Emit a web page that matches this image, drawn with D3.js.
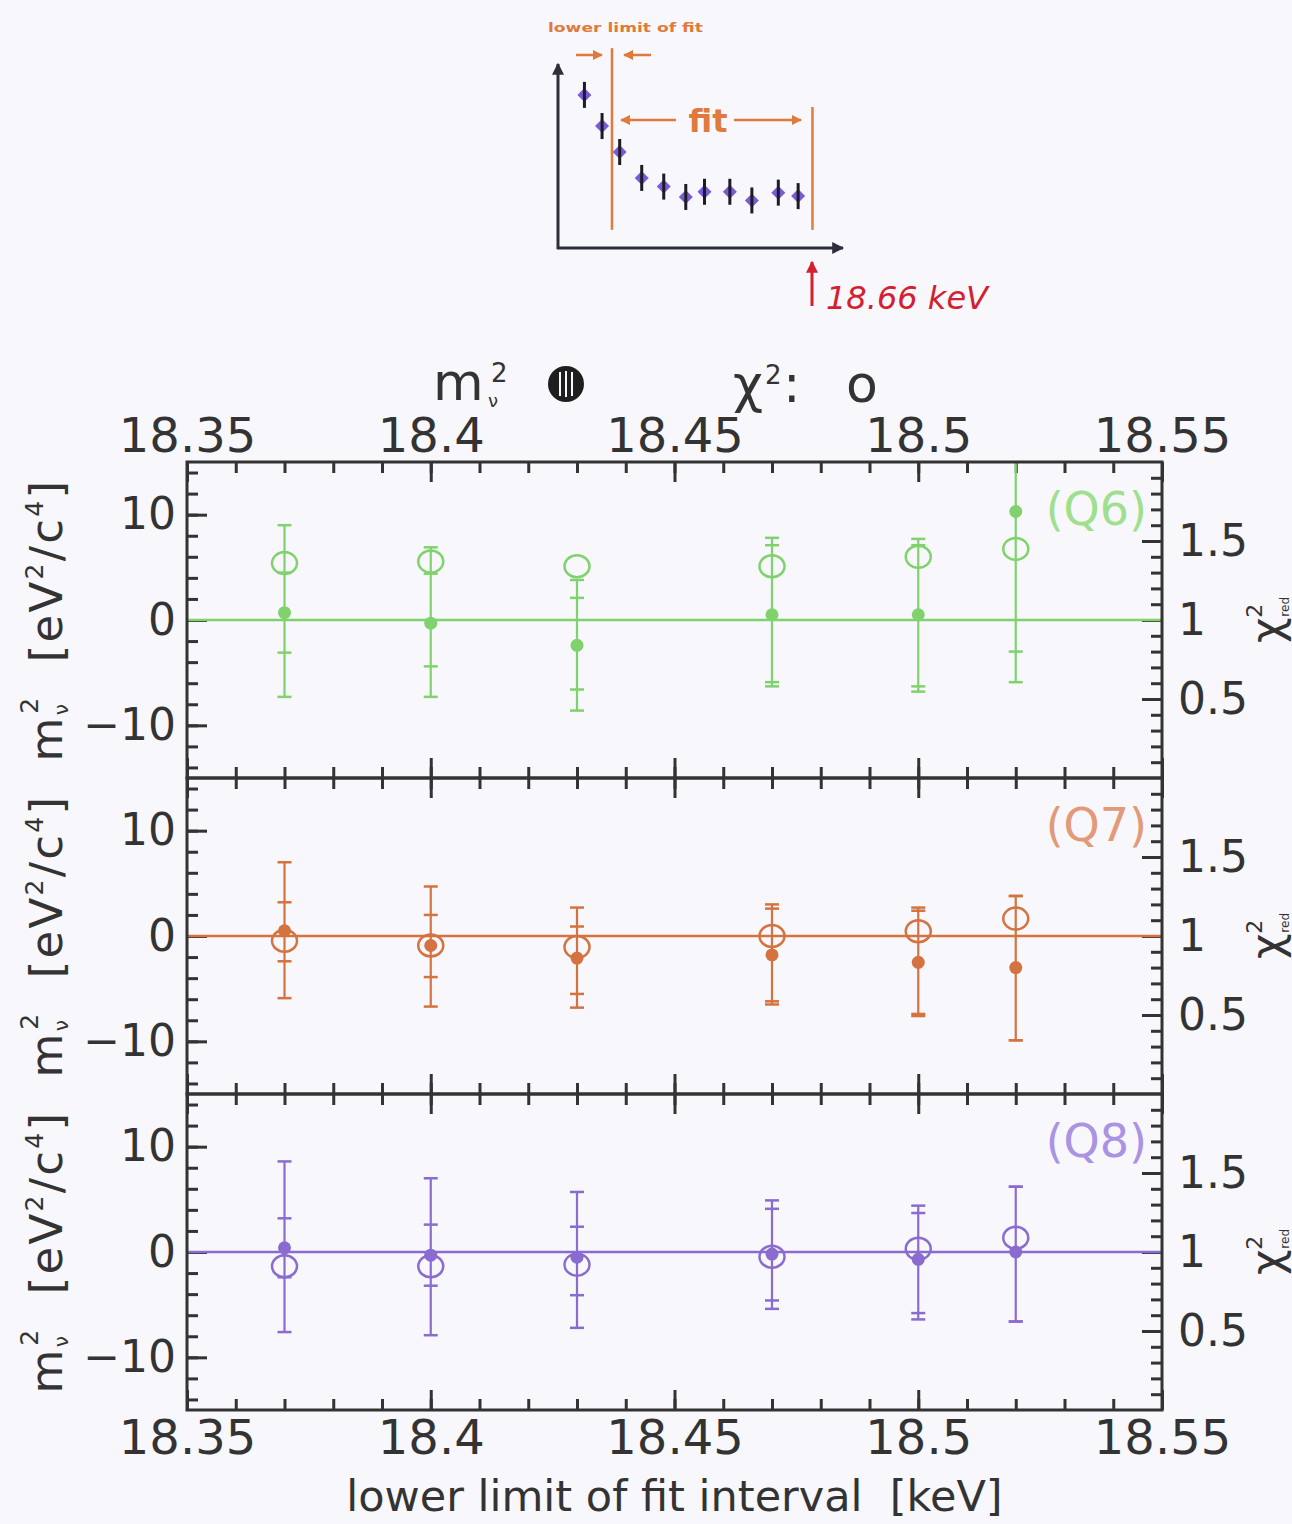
<!DOCTYPE html>
<html>
<head>
<meta charset="utf-8">
<script src="https://cdn.jsdelivr.net/npm/d3@7"></script>
<style>
  html, body { margin: 0; padding: 0; background: #f7f7fc; }
  svg { display: block; font-family: "DejaVu Sans", sans-serif; }
</style>
</head>
<body>
<svg id="chart" width="1292" height="1524"></svg>
<script>
// ---------- data ----------
// lower limit of the fit interval [keV]
const energies = [18.37, 18.40, 18.43, 18.47, 18.50, 18.52];

// Q6: fitted m_nu^2 [eV^2/c^4], total (outer) and inner error bars, reduced chi^2
const q6Mass      = [0.7, -0.3, -2.4, 0.5, 0.5, 10.3];
const q6ErrUp     = [8.3, 7.2, 6.2, 7.3, 7.2, 16.2];
const q6ErrDown   = [8.0, 7.0, 6.2, 6.8, 7.3, 16.2];
const q6InnerUp   = [3.8, 4.7, 4.5, 6.6, 6.6, 13.3];
const q6InnerDown = [3.8, 4.1, 4.2, 6.4, 6.8, 13.3];
const q6Chi2      = [1.36, 1.37, 1.34, 1.34, 1.40, 1.45];

// Q7
const q7Mass      = [0.5, -0.9, -2.1, -1.8, -2.5, -3.0];
const q7ErrUp     = [6.5, 5.6, 4.8, 4.8, 5.2, 6.8];
const q7ErrDown   = [6.4, 5.8, 4.7, 4.7, 5.1, 6.9];
const q7InnerUp   = [2.7, 2.9, 3.0, 4.4, 4.9, 6.8];
const q7InnerDown = [2.9, 3.0, 3.4, 4.4, 4.9, 6.9];
const q7Chi2      = [0.97, 0.94, 0.93, 1.00, 1.03, 1.11];

// Q8
const q8Mass      = [0.4, -0.3, -0.5, -0.2, -0.7, 0.0];
const q8ErrUp     = [8.2, 7.3, 6.2, 5.1, 5.1, 6.2];
const q8ErrDown   = [8.0, 7.6, 6.7, 5.2, 5.7, 6.6];
const q8InnerUp   = [2.8, 2.9, 2.9, 4.3, 4.4, 6.2];
const q8InnerDown = [2.8, 2.9, 3.6, 4.4, 5.1, 6.6];
const q8Chi2      = [0.91, 0.91, 0.92, 0.97, 1.02, 1.09];

const panelNames  = ["(Q6)", "(Q7)", "(Q8)"];
const panelColors = ["#7fd26c", "#d4733f", "#8a6cd0"];
const labelColors = ["#9fe08e", "#e39a78", "#a993e2"];

// axis ticks
const xTickValues = [18.35, 18.40, 18.45, 18.50, 18.55];
const xTickLabels = ["18.35", "18.4", "18.45", "18.5", "18.55"];
const massTickValues = [10, 0, -10];
const massTickLabels = ["10", "0", "\u221210"];
const chiTickValues = [1.5, 1, 0.5];
const chiTickLabels = ["1.5", "1", "0.5"];

// schematic of a fit-range scan (inset)
const insetEnergy = [1.2, 2.0, 2.8, 3.8, 4.8, 5.8, 6.65, 7.8, 8.8, 10.0, 10.9];
const insetValue  = [8.85, 7.05, 5.55, 4.05, 3.55, 2.95, 3.25, 3.25, 2.75, 3.2, 3.0];
const fitLowerLimit = 2.45;
const fitUpperLimit = 11.55;

// ---------- layout ----------
const svg = d3.select("#chart");
const left = 187, right = 1162;
const panelTops = [462, 778, 1094];
const panelH = 316;
const ink = "#333333";

const panels = [
  { mass: q6Mass, up: q6ErrUp, down: q6ErrDown, inUp: q6InnerUp, inDown: q6InnerDown, chi: q6Chi2 },
  { mass: q7Mass, up: q7ErrUp, down: q7ErrDown, inUp: q7InnerUp, inDown: q7InnerDown, chi: q7Chi2 },
  { mass: q8Mass, up: q8ErrUp, down: q8ErrDown, inUp: q8InnerUp, inDown: q8InnerDown, chi: q8Chi2 }
];

svg.append("rect").attr("width", 1292).attr("height", 1524).attr("fill", "#f7f7fc");

const x = d3.scaleLinear().domain([18.35, 18.55]).range([left, right]);
const xMinor = d3.range(0, 21).map(i => +(18.35 + i * 0.01).toFixed(2));
const massMinor = d3.range(-14, 15, 2);
const chiMinor = d3.range(1, 20).map(i => i / 10);

const defs = svg.append("defs");

function styleTicks(g, width) {
  g.select(".domain").remove();
  g.selectAll(".tick line").attr("stroke", ink).attr("stroke-width", width);
  g.selectAll(".tick text").remove();
}

panels.forEach((p, k) => {
  const top = panelTops[k], bottom = top + panelH;
  const yM = d3.scaleLinear().domain([-15, 15]).range([bottom, top]);
  const yC = d3.scaleLinear().domain([0, 2]).range([bottom, top]);
  const color = panelColors[k];

  // inward tick marks on all four sides
  const axes = [
    [d3.axisBottom(x), `translate(0,${top})`, xMinor, xTickValues],
    [d3.axisTop(x), `translate(0,${bottom})`, xMinor, xTickValues],
    [d3.axisRight(yM), `translate(${left},0)`, massMinor, massTickValues],
    [d3.axisLeft(yC), `translate(${right},0)`, chiMinor, chiTickValues]
  ];
  axes.forEach(([ax, tr, minor, major]) => {
    svg.append("g").attr("transform", tr)
      .call(ax.tickValues(minor).tickSize(11).tickSizeOuter(0))
      .call(g => styleTicks(g, 3));
    svg.append("g").attr("transform", tr)
      .call(ax.tickValues(major).tickSize(20).tickSizeOuter(0))
      .call(g => styleTicks(g, 3));
  });

  // tick labels
  svg.append("g").attr("transform", `translate(${left},0)`)
    .call(d3.axisLeft(yM).tickValues(massTickValues).tickSize(0).tickPadding(11)
      .tickFormat((d, i) => massTickLabels[i]))
    .call(g => {
      g.select(".domain").remove();
      g.selectAll("text").attr("font-size", 44).attr("fill", ink).attr("font-family", "DejaVu Sans");
    });
  svg.append("g").attr("transform", `translate(${right},0)`)
    .call(d3.axisRight(yC).tickValues(chiTickValues).tickSize(0).tickPadding(16)
      .tickFormat((d, i) => chiTickLabels[i]))
    .call(g => {
      g.select(".domain").remove();
      g.selectAll("text").attr("font-size", 44).attr("fill", ink).attr("font-family", "DejaVu Sans");
    });

  // data, clipped to the panel
  const clipId = "clip" + k;
  defs.append("clipPath").attr("id", clipId)
    .append("rect").attr("x", left).attr("y", top).attr("width", right - left).attr("height", panelH);
  const g = svg.append("g").attr("clip-path", `url(#${clipId})`);

  g.append("line")
    .attr("x1", left).attr("x2", right)
    .attr("y1", yM(0)).attr("y2", yM(0))
    .attr("stroke", color).attr("stroke-width", 2.5);

  const pts = energies.map((e, i) => ({
    e, m: p.mass[i], up: p.up[i], down: p.down[i], inUp: p.inUp[i], inDown: p.inDown[i], chi: p.chi[i]
  }));

  const pt = g.selectAll("g.pt").data(pts).join("g").attr("class", "pt");
  pt.append("line")
    .attr("x1", d => x(d.e)).attr("x2", d => x(d.e))
    .attr("y1", d => yM(d.m + d.up)).attr("y2", d => yM(d.m - d.down))
    .attr("stroke", color).attr("stroke-width", 2.2);
  const capW = 7;
  [d => d.m + d.up, d => d.m - d.down, d => d.m + d.inUp, d => d.m - d.inDown].forEach(fn => {
    pt.append("line")
      .attr("x1", d => x(d.e) - capW).attr("x2", d => x(d.e) + capW)
      .attr("y1", d => yM(fn(d))).attr("y2", d => yM(fn(d)))
      .attr("stroke", color).attr("stroke-width", 2.5);
  });
  pt.append("circle")
    .attr("cx", d => x(d.e)).attr("cy", d => yM(d.m)).attr("r", 6.5)
    .attr("fill", color);
  pt.append("ellipse")
    .attr("cx", d => x(d.e)).attr("cy", d => yC(d.chi))
    .attr("rx", 12.5).attr("ry", 11)
    .attr("fill", "none").attr("stroke", color).attr("stroke-width", 2.5);

  // frame
  svg.append("rect")
    .attr("x", left).attr("y", top).attr("width", right - left).attr("height", panelH)
    .attr("fill", "none").attr("stroke", ink).attr("stroke-width", 3);

  // panel tag
  svg.append("text")
    .attr("x", 1147).attr("y", top + 63)
    .attr("text-anchor", "end").attr("font-size", 46)
    .attr("fill", labelColors[k]).text(panelNames[k]);

  // left axis title
  const cy = top + panelH / 2;
  const lt = svg.append("text")
    .attr("transform", `translate(62,${cy}) rotate(-90)`)
    .attr("text-anchor", "middle").attr("font-size", 45).attr("letter-spacing", 2.3)
    .attr("fill", ink);
  lt.append("tspan").text("m");
  lt.append("tspan").attr("font-size", 20).attr("dy", 6).text("\u03bd");
  lt.append("tspan").attr("font-size", 25).attr("dx", -12).attr("dy", -30).text("2");
  lt.append("tspan").attr("dy", 24).text("\u00a0 [eV");
  lt.append("tspan").attr("font-size", 25).attr("dy", -19).text("2");
  lt.append("tspan").attr("dy", 19).text("/c");
  lt.append("tspan").attr("font-size", 25).attr("dy", -19).text("4");
  lt.append("tspan").attr("dy", 19).text("]");

  // right axis title
  const rt = svg.append("text")
    .attr("transform", `translate(1282,${cy}) rotate(-90)`)
    .attr("text-anchor", "middle").attr("font-size", 44).attr("fill", ink);
  rt.append("tspan").text("\u03c7");
  rt.append("tspan").attr("font-size", 22).attr("dy", -20).text("2");
  rt.append("tspan").attr("font-size", 12).attr("dx", -13).attr("dy", 27).text("red");
});

// x tick labels, top and bottom
svg.append("g").attr("transform", `translate(0,${panelTops[0]})`)
  .call(d3.axisTop(x).tickValues(xTickValues).tickSize(0).tickPadding(10)
    .tickFormat((d, i) => xTickLabels[i]))
  .call(g => {
    g.select(".domain").remove();
    g.selectAll("text").attr("font-size", 48).attr("fill", ink).attr("font-family", "DejaVu Sans");
  });
const plotBottom = panelTops[2] + panelH;
svg.append("g").attr("transform", `translate(0,${plotBottom})`)
  .call(d3.axisBottom(x).tickValues(xTickValues).tickSize(0).tickPadding(10)
    .tickFormat((d, i) => xTickLabels[i]))
  .call(g => {
    g.select(".domain").remove();
    g.selectAll("text").attr("font-size", 48).attr("fill", ink).attr("font-family", "DejaVu Sans");
  });

svg.append("text")
  .attr("x", (left + right) / 2).attr("y", 1511)
  .attr("text-anchor", "middle").attr("font-size", 43).attr("fill", ink)
  .text("lower limit of fit interval\u00a0 [keV]");

// ---------- legend ----------
const lg = svg.append("g").attr("fill", ink);
lg.append("text").attr("x", 433).attr("y", 400).attr("font-size", 52).text("m");
lg.append("text").attr("x", 488).attr("y", 407).attr("font-size", 18).text("\u03bd");
lg.append("text").attr("x", 491).attr("y", 382).attr("font-size", 26).text("2");
lg.append("circle").attr("cx", 566).attr("cy", 384).attr("r", 18).attr("fill", "#1e1e1e");
[-6, 0, 6].forEach(dx => {
  const h = Math.sqrt(18 * 18 - dx * dx) - 5;
  lg.append("line").attr("x1", 566 + dx).attr("x2", 566 + dx)
    .attr("y1", 384 - h).attr("y2", 384 + h)
    .attr("stroke", "#f7f7fc").attr("stroke-width", 2);
});
lg.append("text").attr("x", 733).attr("y", 402).attr("font-size", 52).text("\u03c7");
lg.append("text").attr("x", 765).attr("y", 384).attr("font-size", 26).text("2");
lg.append("text").attr("x", 783).attr("y", 402).attr("font-size", 52).text(":");
lg.append("text").attr("x", 846).attr("y", 402).attr("font-size", 52).text("o");

// ---------- inset sketch ----------
const orange = "#e07a3c";
const ix = d3.scaleLinear().domain([0, 12.8]).range([558, 840]);
const iy = d3.scaleLinear().domain([0, 10]).range([248, 75]);

function arrowMarker(id, color) {
  defs.append("marker").attr("id", id)
    .attr("viewBox", "0 0 10 10").attr("refX", 9).attr("refY", 5)
    .attr("markerWidth", 4).attr("markerHeight", 4).attr("orient", "auto")
    .append("path").attr("d", "M0,0L10,5L0,10Z").attr("fill", color);
}
arrowMarker("arrOrange", orange);
arrowMarker("arrDark", "#2e2e3a");
arrowMarker("arrRed", "#d4202e");

const inset = svg.append("g");
inset.append("line").attr("x1", ix(0)).attr("x2", ix(0)).attr("y1", iy(0) + 1).attr("y2", 64)
  .attr("stroke", "#2e2e3a").attr("stroke-width", 3).attr("marker-end", "url(#arrDark)");
inset.append("line").attr("x1", ix(0) - 1).attr("x2", 843).attr("y1", iy(0)).attr("y2", iy(0))
  .attr("stroke", "#2e2e3a").attr("stroke-width", 3).attr("marker-end", "url(#arrDark)");

inset.append("line").attr("x1", ix(fitLowerLimit)).attr("x2", ix(fitLowerLimit))
  .attr("y1", iy(11.55)).attr("y2", iy(1.05)).attr("stroke", orange).attr("stroke-width", 2.5);
inset.append("line").attr("x1", ix(fitUpperLimit)).attr("x2", ix(fitUpperLimit))
  .attr("y1", iy(8.15)).attr("y2", iy(1.05)).attr("stroke", orange).attr("stroke-width", 2.5);

const ip = inset.selectAll("g.ip").data(insetEnergy.map((e, i) => ({ e, v: insetValue[i] })))
  .join("g").attr("class", "ip");
ip.append("path")
  .attr("transform", d => `translate(${ix(d.e)},${iy(d.v)})`)
  .attr("d", "M0,-7L7,0L0,7L-7,0Z").attr("fill", "#7a5ad6");
ip.append("line")
  .attr("x1", d => ix(d.e)).attr("x2", d => ix(d.e))
  .attr("y1", d => iy(d.v) - 13).attr("y2", d => iy(d.v) + 13)
  .attr("stroke", "#1c1c24").attr("stroke-width", 3);

inset.append("text").attr("x", 548).attr("y", 32).attr("font-size", 13).attr("font-weight", "bold")
  .attr("fill", orange).attr("textLength", 155).attr("lengthAdjust", "spacingAndGlyphs")
  .text("lower limit of fit");
[[576, 602], [651, 624]].forEach(([a, b]) => {
  inset.append("line").attr("x1", a).attr("x2", b).attr("y1", 55).attr("y2", 55)
    .attr("stroke", orange).attr("stroke-width", 2.5).attr("marker-end", "url(#arrOrange)");
});
[[676, 621], [734, 801]].forEach(([a, b]) => {
  inset.append("line").attr("x1", a).attr("x2", b).attr("y1", 120).attr("y2", 120)
    .attr("stroke", orange).attr("stroke-width", 2.5).attr("marker-end", "url(#arrOrange)");
});
inset.append("text").attr("x", 708).attr("y", 132).attr("text-anchor", "middle")
  .attr("font-size", 32).attr("font-weight", "bold").attr("fill", orange).text("fit");

inset.append("line").attr("x1", 812).attr("x2", 812).attr("y1", 306).attr("y2", 262)
  .attr("stroke", "#d4202e").attr("stroke-width", 3).attr("marker-end", "url(#arrRed)");
inset.append("text").attr("x", 826).attr("y", 309).attr("font-size", 32).attr("font-style", "italic")
  .attr("fill", "#d4202e").attr("textLength", 162).attr("lengthAdjust", "spacingAndGlyphs")
  .text("18.66 keV");
</script>
</body>
</html>
